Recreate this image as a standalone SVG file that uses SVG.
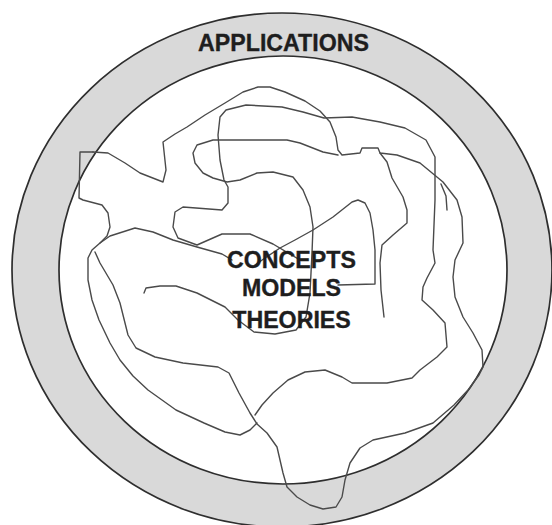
<svg xmlns="http://www.w3.org/2000/svg" width="552" height="525" viewBox="0 0 552 525">
<style>
.ring{stroke:#2e2e2e;stroke-width:1.7}
.sq{fill:none;stroke:#4a4a4a;stroke-width:1.4;stroke-linejoin:round;stroke-linecap:round}
.lbl{font-family:"Liberation Sans",Arial,sans-serif;font-weight:bold;font-size:23.2px;fill:#1e1e1e;stroke:#1e1e1e;stroke-width:0.35;text-anchor:middle}
</style>
<rect width="552" height="525" fill="#ffffff"/>
<g id="applications-ring">
<ellipse class="ring" cx="282" cy="270" rx="270" ry="257" fill="#d9d9d9"/>
<ellipse class="ring" cx="283" cy="270" rx="224" ry="214" fill="#ffffff"/>
</g>
<g id="squiggles">
<polyline class="sq" points="93,152 108,153 125,163 140,173 163,182 166,170 163,142 175,134 187,127 205,115 225,103 243,92 258,87 270,87 285,92 305,101 320,111 330,122 336,137 338,150 342,155 360,153 362,148 378,148 380,153 397,155 420,163 443,182 457,200 462,217 463,243 455,260 453,277 455,297 463,317 473,333 482,350 483,367 479,375 468,390 454,405 433,423 405,433 373,440 360,448 350,463 345,480 342,497 336,507 323,509 310,505 297,497 287,487 283,473 277,447 267,433 257,424 250,413 239,393 229,373 218,367 183,363 155,357 136,348 128,335 123,315 120,303 113,285 100,263 95,252"/>
<polyline class="sq" points="93,152 80,152 79,198 83,200 102,205 108,213 110,227 107,236 100,243 92,250 88,258 88,280 92,300 99,320 110,343 120,360 133,376 148,390 176,410 204,423 225,432 240,435 250,430 257,423"/>
<polyline class="sq" points="100,243 110,236 135,228 153,232 173,240 197,247 222,254 232,260"/>
<polyline class="sq" points="441,184 446,196 447,210"/>
<polyline class="sq" points="380,153 387,162 392,178 403,197 407,210 407,223 393,235 382,245 380,263 381,290 384,317"/>
<polyline class="sq" points="300,260 273,244 250,234 222,234 197,245 178,238 173,227 175,212 183,207 222,210 228,203 228,187 224,180 220,160 218,135 220,117 226,110 246,105 282,107 303,112 324,118 352,117 380,122 405,128 426,140 435,157 435,200 433,250 435,263 427,278 423,287 422,300 433,310 445,323 447,347 437,357 420,370 412,378 387,383 352,383 342,377 325,370 305,372 288,380 273,393 262,405 255,415"/>
<polyline class="sq" points="144,293 146,288 160,286 176,286 197,293 225,307 238,320 254,332 275,334 296,330 306,317 310,293 312,253 313,227 310,207 303,190 293,177 273,172 257,173 240,180 227,182 213,178 203,173 195,163 193,153 197,145 213,140 287,140 300,143 323,152 338,155"/>
<polyline class="sq" points="255,265 265,258 280,248 295,240 313,230 333,217 352,202 358,200 365,203 370,213 373,230 375,250 375,284 338,285"/>
</g>
<g id="label-applications">
<text class="lbl" x="283.5" y="51">APPLICATIONS</text>
</g>
<g id="label-core">
<text class="lbl" x="291.5" y="268">CONCEPTS</text>
<text class="lbl" x="291.5" y="296">MODELS</text>
<text class="lbl" x="291.5" y="328">THEORIES</text>
</g>
</svg>
